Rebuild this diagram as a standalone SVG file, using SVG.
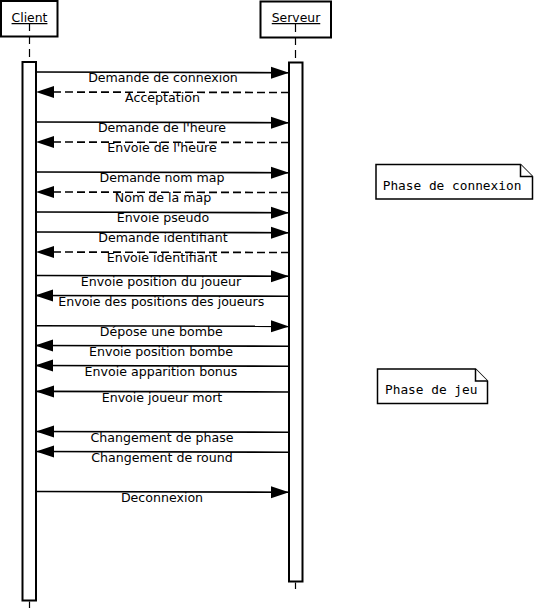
<svg xmlns="http://www.w3.org/2000/svg" width="534" height="612" viewBox="0 0 534 612">
<style>
.box{fill:#fff;stroke:#000;stroke-width:2}
.act{fill:#fff;stroke:#000;stroke-width:2}
.life{stroke:#000;stroke-width:1.2;stroke-dasharray:8,5;fill:none}
.msg{stroke:#000;stroke-width:1.6;fill:none}
.ret{stroke:#000;stroke-width:1.6;fill:none;stroke-dasharray:8,4}
.lbl{font-family:"DejaVu Sans",sans-serif;font-size:12.6px;fill:#000;text-anchor:middle}
.name{font-family:"DejaVu Sans",sans-serif;font-size:12.4px;fill:#000;text-anchor:middle;text-decoration:underline}
.note{fill:#fff;stroke:#000;stroke-width:1.5}
.ntxt{font-family:"DejaVu Sans Mono",monospace;font-size:12.8px;fill:#000}
</style>
<defs>
<marker id="ah" markerWidth="18" markerHeight="13" refX="18" refY="6.5" orient="auto" markerUnits="userSpaceOnUse">
<path d="M0,0.5 L18,6.5 L0,12.5 Z" fill="#000"/>
</marker>
</defs>
<g id="client">
<rect class="box" x="1" y="1" width="56.5" height="35.5"/>
<text class="name" x="29.5" y="22">Client</text>
<line class="life" x1="29.5" y1="20" x2="29.5" y2="62" stroke-dashoffset="-3"/>
<rect class="act" x="22.5" y="62" width="13.5" height="538.5"/>
<line x1="29.5" y1="601.5" x2="29.5" y2="608" stroke="#000" stroke-width="1.2"/>
</g>
<g id="serveur">
<rect class="box" x="260.5" y="1.5" width="70.5" height="36"/>
<text class="name" x="296" y="22">Serveur</text>
<line class="life" x1="295.5" y1="21" x2="295.5" y2="62" stroke-dashoffset="-3"/>
<rect class="act" x="289" y="62.5" width="13.5" height="519"/>
<line x1="295.5" y1="582.5" x2="295.5" y2="589" stroke="#000" stroke-width="1.2"/>
</g>
<g id="connectors">
<line class="msg" x1="36" y1="72" x2="289" y2="72.7" marker-end="url(#ah)"/>
<line class="ret" x1="289" y1="92.5" x2="36" y2="92" marker-end="url(#ah)"/>
<line class="msg" x1="36" y1="122" x2="289" y2="122.7" marker-end="url(#ah)"/>
<line class="ret" x1="289" y1="142.5" x2="36" y2="142" marker-end="url(#ah)"/>
<line class="msg" x1="36" y1="172" x2="289" y2="172.7" marker-end="url(#ah)"/>
<line class="ret" x1="289" y1="192.5" x2="36" y2="192" marker-end="url(#ah)"/>
<line class="msg" x1="36" y1="212" x2="289" y2="212.7" marker-end="url(#ah)"/>
<line class="msg" x1="36" y1="232" x2="289" y2="232.7" marker-end="url(#ah)"/>
<line class="ret" x1="289" y1="252.5" x2="36" y2="252" marker-end="url(#ah)"/>
<line class="msg" x1="36" y1="275.5" x2="289" y2="276.2" marker-end="url(#ah)"/>
<line class="msg" x1="289" y1="296.2" x2="35" y2="295.5" marker-end="url(#ah)"/>
<line class="msg" x1="36" y1="325.7" x2="289" y2="326.4" marker-end="url(#ah)"/>
<line class="msg" x1="289" y1="346.2" x2="35" y2="345.5" marker-end="url(#ah)"/>
<line class="msg" x1="289" y1="366.2" x2="35" y2="365.5" marker-end="url(#ah)"/>
<line class="msg" x1="289" y1="392" x2="36" y2="391.4" marker-end="url(#ah)"/>
<line class="msg" x1="289" y1="432.2" x2="36" y2="431.5" marker-end="url(#ah)"/>
<line class="msg" x1="289" y1="452.2" x2="36" y2="451.5" marker-end="url(#ah)"/>
<line class="msg" x1="36" y1="491.5" x2="289" y2="492.2" marker-end="url(#ah)"/>
</g>
<g id="labels">
<text class="lbl" x="163" y="81.7">Demande de connexion</text>
<text class="lbl" x="162.5" y="101.7">Acceptation</text>
<text class="lbl" x="162" y="131.7">Demande de l'heure</text>
<text class="lbl" x="162" y="151.7">Envoie de l'heure</text>
<text class="lbl" x="162" y="181.7">Demande nom map</text>
<text class="lbl" x="163" y="201.7">Nom de la map</text>
<text class="lbl" x="163" y="221.7">Envoie pseudo</text>
<text class="lbl" x="163" y="241.7">Demande identifiant</text>
<text class="lbl" x="162" y="261.7">Envoie identifiant</text>
<text class="lbl" x="161" y="285.5">Envoie position du joueur</text>
<text class="lbl" x="161.3" y="305.5">Envoie des positions des joueurs</text>
<text class="lbl" x="161.3" y="335.5">Dépose une bombe</text>
<text class="lbl" x="161" y="355.5">Envoie position bombe</text>
<text class="lbl" x="161" y="375.5">Envoie apparition bonus</text>
<text class="lbl" x="162" y="401.5">Envoie joueur mort</text>
<text class="lbl" x="162" y="441.5">Changement de phase</text>
<text class="lbl" x="162" y="461.5">Changement de round</text>
<text class="lbl" x="162" y="501.5">Deconnexion</text>
</g>
<g id="note-connexion">
<path class="note" d="M376,164.5 H520.5 L532.5,176.5 V199 H376 Z"/>
<path class="note" d="M520.5,164.5 V176.5 H532.5" fill="none"/>
<text class="ntxt" x="382.7" y="189.5">Phase de connexion</text>
</g>
<g id="note-jeu">
<path class="note" d="M377.5,369 H475.5 L487.5,381 V403.5 H377.5 Z"/>
<path class="note" d="M475.5,369 V381 H487.5" fill="none"/>
<text class="ntxt" x="385" y="393.5">Phase de jeu</text>
</g>
</svg>
